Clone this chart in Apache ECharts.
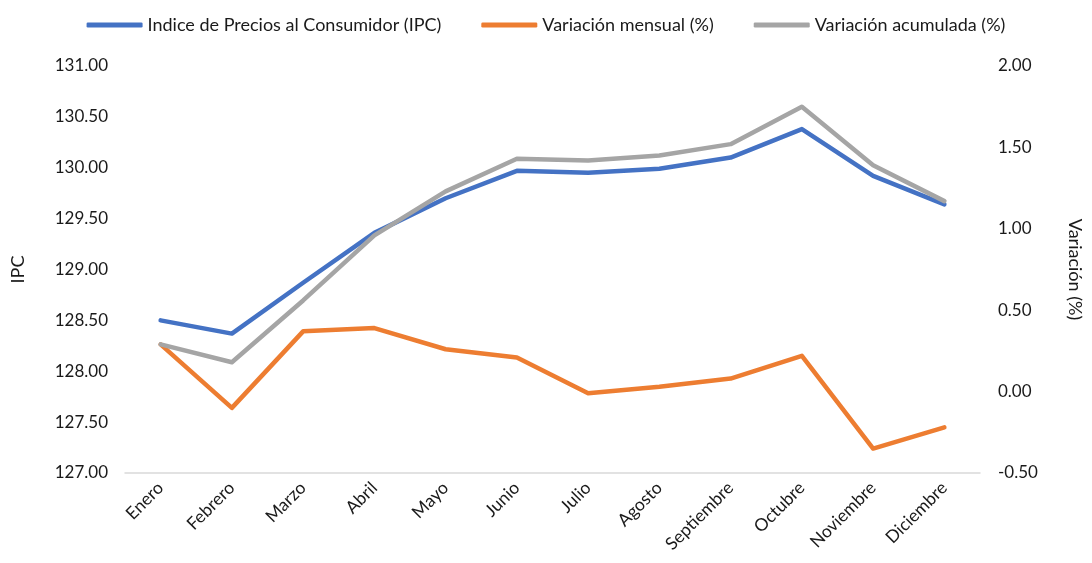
<!DOCTYPE html>
<html>
<head>
<meta charset="utf-8">
<script src="https://cdn.jsdelivr.net/npm/echarts@6/dist/echarts.min.js"></script>
<style>
  html, body { margin: 0; padding: 0; background: #fff; }
  #chart { width: 1092px; height: 563px; }
</style>
</head>
<body>
<div id="chart"></div>
<script>
// Meses del año
const meses = ['Enero', 'Febrero', 'Marzo', 'Abril', 'Mayo', 'Junio', 'Julio',
  'Agosto', 'Septiembre', 'Octubre', 'Noviembre', 'Diciembre'];

// Índice de Precios al Consumidor (eje izquierdo)
const ipc = [128.50, 128.37, 128.87, 129.36, 129.70, 129.97, 129.95, 129.99, 130.10, 130.38, 129.92, 129.64];

// Variación mensual y acumulada en % (eje derecho)
const variacionMensual = [0.29, -0.10, 0.37, 0.39, 0.26, 0.21, -0.01, 0.03, 0.08, 0.22, -0.35, -0.22];
const variacionAcumulada = [0.29, 0.18, 0.56, 0.96, 1.23, 1.43, 1.42, 1.45, 1.52, 1.75, 1.39, 1.17];

const FONT = 'Lato, "Noto Sans", sans-serif';
const TEXT = '#1a1a1a';

const chart = echarts.init(document.getElementById('chart'));

const lineSeries = (name, data, color, axis) => ({
  name: name,
  type: 'line',
  yAxisIndex: axis,
  data: data,
  showSymbol: false,
  symbol: 'none',
  lineStyle: { color: color, width: 4.5, cap: 'round', join: 'round' },
  itemStyle: { color: color },
  emphasis: { disabled: true }
});

chart.setOption({
  backgroundColor: '#ffffff',
  animation: false,
  textStyle: { fontFamily: FONT },
  legend: {
    top: 11,
    left: 'center',
    itemWidth: 56,
    itemHeight: 5,
    itemGap: 40,
    icon: 'roundRect',
    textStyle: { fontSize: 18, color: TEXT, fontFamily: FONT },
    data: ['Indice de Precios al Consumidor (IPC)', 'Variación mensual (%)', 'Variación acumulada (%)']
  },
  grid: { left: 125, right: 105, top: 66, bottom: 90, containLabel: false },
  xAxis: {
    type: 'category',
    data: meses,
    boundaryGap: true,
    axisLine: { show: true, onZero: false, lineStyle: { color: '#d9d9d9', width: 1.5 } },
    axisTick: { show: false },
    axisLabel: { rotate: 45, fontSize: 17.5, color: TEXT, margin: 12, interval: 0, fontFamily: FONT },
    splitLine: { show: false }
  },
  yAxis: [
    {
      type: 'value',
      name: 'IPC',
      nameLocation: 'middle',
      nameGap: 98,
      nameRotate: 90,
      nameTextStyle: { fontSize: 18, color: TEXT, fontFamily: FONT },
      min: 127,
      max: 131,
      interval: 0.5,
      axisLine: { show: false },
      axisTick: { show: false },
      splitLine: { show: false },
      axisLabel: { fontSize: 17, color: TEXT, margin: 17, formatter: v => v.toFixed(2), fontFamily: FONT }
    },
    {
      type: 'value',
      name: 'Variación (%)',
      nameLocation: 'middle',
      nameGap: 86,
      nameRotate: -90,
      nameTextStyle: { fontSize: 18, color: TEXT, fontFamily: FONT },
      min: -0.5,
      max: 2,
      interval: 0.5,
      axisLine: { show: false },
      axisTick: { show: false },
      splitLine: { show: false },
      axisLabel: { fontSize: 17, color: TEXT, margin: 18, formatter: v => v.toFixed(2), fontFamily: FONT }
    }
  ],
  series: [
    lineSeries('Indice de Precios al Consumidor (IPC)', ipc, '#4472c4', 0),
    lineSeries('Variación mensual (%)', variacionMensual, '#ed7d31', 1),
    lineSeries('Variación acumulada (%)', variacionAcumulada, '#a5a5a5', 1)
  ]
});
</script>
</body>
</html>
